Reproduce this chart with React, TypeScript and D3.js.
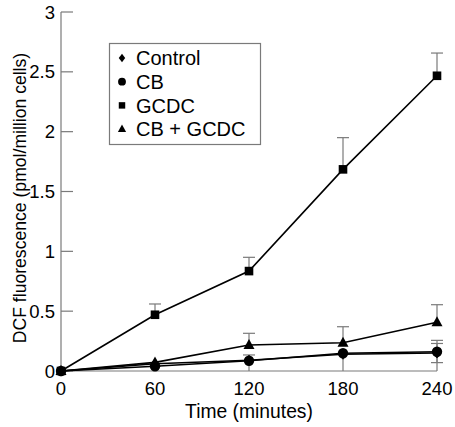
import React from "react";
import * as d3 from "d3";

const times = [0, 60, 120, 180, 240];
const xTicks = [0, 60, 120, 180, 240];
const yTicks = [0, 0.5, 1, 1.5, 2, 2.5, 3];
const yTickLabels = ["0", "0.5", "1", "1.5", "2", "2.5", "3"];

const seriesNames = ["Control", "CB", "GCDC", "CB + GCDC"];
const controlValues = [0, 0.06, 0.09, 0.14, 0.15];
const controlErrUp = [0, 0, 0, 0, 0.08];
const controlErrDown = [0, 0, 0, 0, 0.08];
const cbValues = [0, 0.04, 0.086, 0.148, 0.161];
const cbErrUp = [0, 0, 0.048, 0, 0.095];
const gcdcValues = [0, 0.47, 0.835, 1.685, 2.467];
const gcdcErrUp = [0, 0.09, 0.115, 0.265, 0.19];
const cbGcdcValues = [0, 0.072, 0.217, 0.236, 0.407];
const cbGcdcErrUp = [0, 0, 0.098, 0.134, 0.147];

const W = 455;
const H = 427;
const FONT = "'Liberation Sans', Arial, sans-serif";
const GREY = "#7a7a7a";

type Shape = "diamond" | "circle" | "square" | "triangle";

function Marker({ shape, x, y, s = 1 }: { shape: Shape; x: number; y: number; s?: number }) {
  if (shape === "circle") return <circle cx={x} cy={y} r={5.2 * s} fill="#000" />;
  if (shape === "square")
    return <rect x={x - 4.3 * s} y={y - 4.3 * s} width={8.6 * s} height={8.6 * s} fill="#000" />;
  if (shape === "triangle") {
    const h = 10 * s, w = 11 * s;
    return (
      <path
        d={`M${x},${y - h * 0.6} L${x + w / 2},${y + h * 0.4} L${x - w / 2},${y + h * 0.4} Z`}
        fill="#000"
      />
    );
  }
  const r = 5.6 * s, rw = 4.3 * s;
  return <path d={`M${x},${y - r} L${x + rw},${y} L${x},${y + r} L${x - rw},${y} Z`} fill="#000" />;
}

export default function App() {
  const x = d3.scaleLinear().domain([0, 240]).range([61, 437]);
  const y = d3.scaleLinear().domain([0, 3]).range([371, 12]);

  const series = [
    { name: seriesNames[0], shape: "diamond" as Shape, v: controlValues, up: controlErrUp, down: controlErrDown },
    { name: seriesNames[1], shape: "circle" as Shape, v: cbValues, up: cbErrUp, down: null },
    { name: seriesNames[2], shape: "square" as Shape, v: gcdcValues, up: gcdcErrUp, down: null },
    { name: seriesNames[3], shape: "triangle" as Shape, v: cbGcdcValues, up: cbGcdcErrUp, down: null },
  ];

  const line = d3
    .line<number>()
    .x((_, i) => x(times[i]))
    .y((d) => y(d));

  const capW = 6;

  return (
    <svg
      width={W}
      height={H}
      style={{ position: "absolute", left: 0, top: 0, background: "#fff" }}
      fontFamily={FONT}
    >
      {/* axes */}
      <line x1={x(0)} x2={x(0)} y1={y(3)} y2={y(0)} stroke={GREY} strokeWidth={1.2} />
      <line x1={x(0)} x2={x(240)} y1={y(0)} y2={y(0)} stroke={GREY} strokeWidth={1.2} />
      {yTicks.map((t, i) => (
        <g key={"yt" + i}>
          <line x1={x(0)} x2={x(0) + 12} y1={y(t)} y2={y(t)} stroke={GREY} strokeWidth={1.2} />
          <text x={x(0) - 6} y={y(t)} dy="0.36em" textAnchor="end" fontSize={18.5} fill="#000">
            {yTickLabels[i]}
          </text>
        </g>
      ))}
      {xTicks.map((t, i) => (
        <g key={"xt" + i}>
          {t > 0 && (
            <line x1={x(t)} x2={x(t)} y1={y(0)} y2={y(0) - 12} stroke={GREY} strokeWidth={1.2} />
          )}
          <text x={x(t)} y={y(0) + 17} dy="0.36em" textAnchor="middle" fontSize={18.5} fill="#000">
            {t}
          </text>
        </g>
      ))}
      <text x={249} y={411} dy="0.36em" textAnchor="middle" fontSize={19.3} fill="#000">
        Time (minutes)
      </text>
      <text
        transform={`translate(20,198) rotate(-90)`}
        dy="0.36em"
        textAnchor="middle"
        fontSize={17.6}
        fill="#000"
      >
        DCF fluorescence (pmol/million cells)
      </text>

      {/* error bars */}
      {series.map((s) =>
        s.v.map((val, i) => {
          const out = [];
          if (s.up[i] > 0) {
            out.push(
              <g key={s.name + "u" + i}>
                <line x1={x(times[i])} x2={x(times[i])} y1={y(val)} y2={y(val + s.up[i])} stroke={GREY} strokeWidth={1.2} />
                <line x1={x(times[i]) - capW} x2={x(times[i]) + capW} y1={y(val + s.up[i])} y2={y(val + s.up[i])} stroke={GREY} strokeWidth={1.2} />
              </g>
            );
          }
          if (s.down && s.down[i] > 0) {
            out.push(
              <g key={s.name + "d" + i}>
                <line x1={x(times[i])} x2={x(times[i])} y1={y(val)} y2={y(val - s.down[i])} stroke={GREY} strokeWidth={1.2} />
                <line x1={x(times[i]) - capW} x2={x(times[i]) + capW} y1={y(val - s.down[i])} y2={y(val - s.down[i])} stroke={GREY} strokeWidth={1.2} />
              </g>
            );
          }
          return out;
        })
      )}

      {/* lines and markers */}
      {series.map((s) => (
        <g key={s.name}>
          <path d={line(s.v) || ""} fill="none" stroke="#000" strokeWidth={1.6} />
          {s.v.map((val, i) => (
            <Marker key={i} shape={s.shape} x={x(times[i])} y={y(val)} />
          ))}
        </g>
      ))}

      {/* legend */}
      <rect x={109.5} y={43.5} width={151} height={101} fill="#fff" stroke={GREY} strokeWidth={1.2} />
      {series.map((s, i) => (
        <g key={"lg" + i}>
          <Marker shape={s.shape} x={122} y={58 + i * 23.7} s={0.75} />
          <text x={136} y={58 + i * 23.7} dy="0.36em" fontSize={20} fill="#000">
            {s.name}
          </text>
        </g>
      ))}
    </svg>
  );
}
